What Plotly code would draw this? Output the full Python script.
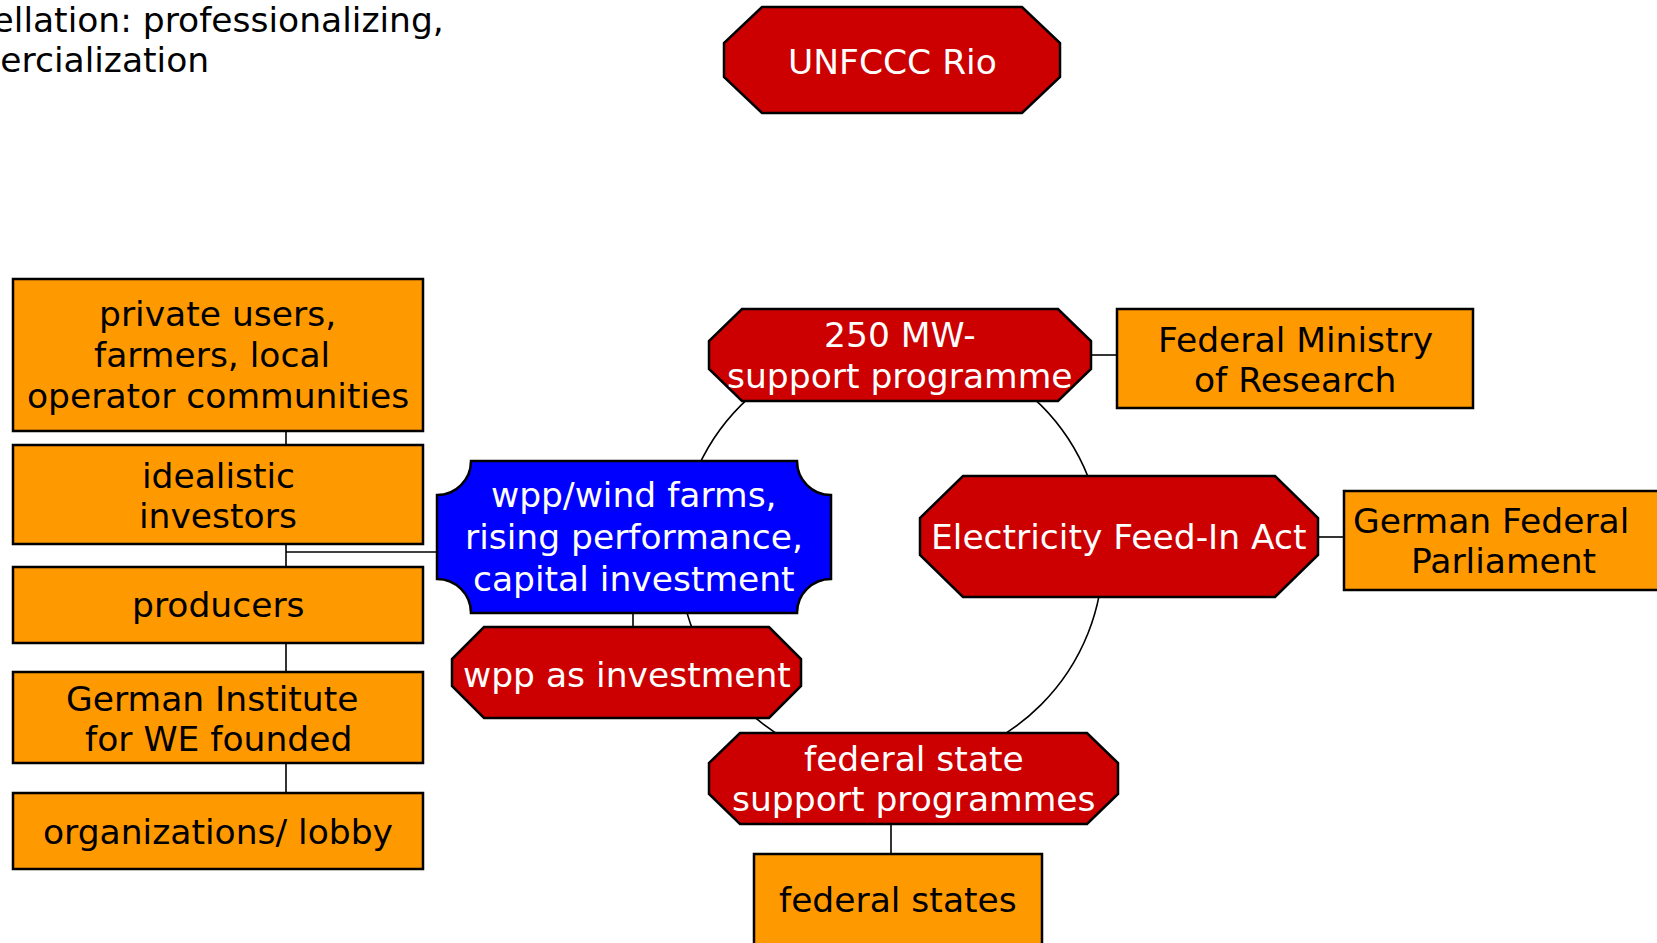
import plotly.graph_objects as go

# ---------------- content (text of the diagram) ----------------
heading_lines = ["Constellation: professionalizing,", "commercialization"]

node_ids = ["unfccc", "mw250", "ministry", "wind", "feedin", "parliament",
            "invest", "fedprog", "fedstates", "private", "idealistic",
            "producers", "institute", "lobby"]
node_lines = [
    ["UNFCCC Rio"],
    ["250 MW-", "support programme"],
    ["Federal Ministry", "of Research"],
    ["wpp/wind farms,", "rising performance,", "capital investment"],
    ["Electricity Feed-In Act"],
    ["German Federal", "Parliament"],
    ["wpp as investment"],
    ["federal state", "support programmes"],
    ["federal states"],
    ["private users,", "farmers, local", "operator communities"],
    ["idealistic", "investors"],
    ["producers"],
    ["German Institute", "for WE founded"],
    ["organizations/ lobby"],
]
node_kinds = ["event", "event", "actor", "core", "event", "actor", "event",
              "event", "actor", "actor", "actor", "actor", "actor", "actor"]

links = [("private", "idealistic"), ("idealistic", "producers"),
         ("producers", "institute"), ("institute", "lobby"),
         ("idealistic", "wind"), ("wind", "invest"),
         ("mw250", "ministry"), ("feedin", "parliament"),
         ("fedprog", "fedstates")]

# ---------------- geometry & style (pixel layout) ----------------
W, H = 1657, 943
FONT = "DejaVu Sans, Verdana, sans-serif"
FS = 34.5
BASE_OFF = 12  # baseline -> line centre

geom = {
    "unfccc":     dict(box=(724, 1060, 7, 113), cut=(38, 36), base=[74]),
    "mw250":      dict(box=(709, 1091, 309, 401), cut=(33, 32), base=[347, 388]),
    "ministry":   dict(box=(1117, 1473, 309, 408), base=[352, 392]),
    "wind":       dict(box=(437, 831, 461, 613), r=34, base=[507, 549, 591]),
    "feedin":     dict(box=(920, 1318, 476, 597), cut=(43, 42), base=[549]),
    "parliament": dict(box=(1344, 1680, 491, 590), base=[533, 573], xc=[1491, 1503]),
    "invest":     dict(box=(452, 801, 627, 718), cut=(32, 32), base=[687]),
    "fedprog":    dict(box=(709, 1118, 733, 824), cut=(31, 30), base=[771, 811]),
    "fedstates":  dict(box=(754, 1042, 854, 965), base=[912]),
    "private":    dict(box=(13, 423, 279, 431), base=[326, 367, 408], xc=[217, 212, 218]),
    "idealistic": dict(box=(13, 423, 445, 544), base=[488, 528]),
    "producers":  dict(box=(13, 423, 567, 643), base=[617]),
    "institute":  dict(box=(13, 423, 672, 763), base=[711, 751], xc=[212, 218]),
    "lobby":      dict(box=(13, 423, 793, 869), base=[844]),
}
link_paths = {
    ("private", "idealistic"): [(286, 431), (286, 445)],
    ("idealistic", "producers"): [(286, 544), (286, 567)],
    ("producers", "institute"): [(286, 643), (286, 672)],
    ("institute", "lobby"): [(286, 763), (286, 793)],
    ("idealistic", "wind"): [(286, 552), (437, 552)],
    ("wind", "invest"): [(633, 613), (633, 627)],
    ("mw250", "ministry"): [(1091, 355), (1117, 355)],
    ("feedin", "parliament"): [(1318, 537), (1344, 537)],
    ("fedprog", "fedstates"): [(891, 824), (891, 854)],
}
ring = dict(cx=891, cy=555, r=212)

fills = {"event": "#CC0000", "actor": "#FF9900", "core": "#0000FF"}
text_col = {"event": "white", "actor": "black", "core": "white"}


def octagon(x0, x1, y0, y1, dx, dy):
    pts = [(x0 + dx, y0), (x1 - dx, y0), (x1, y0 + dy), (x1, y1 - dy),
           (x1 - dx, y1), (x0 + dx, y1), (x0, y1 - dy), (x0, y0 + dy)]
    return "M " + " L ".join(f"{x},{y}" for x, y in pts) + " Z"


def scallop(x0, x1, y0, y1, r):
    k = 0.5523 * r
    return (f"M {x0+r},{y0} L {x1-r},{y0} "
            f"C {x1-r},{y0+k} {x1-k},{y0+r} {x1},{y0+r} "
            f"L {x1},{y1-r} C {x1-k},{y1-r} {x1-r},{y1-k} {x1-r},{y1} "
            f"L {x0+r},{y1} C {x0+r},{y1-k} {x0+k},{y1-r} {x0},{y1-r} "
            f"L {x0},{y0+r} C {x0+k},{y0+r} {x0+r},{y0+k} {x0+r},{y0} Z")


fig = go.Figure()
fig.add_trace(go.Scatter(x=[0, W], y=[0, H], mode="markers",
                         marker=dict(opacity=0), hoverinfo="skip", showlegend=False))

shapes = []
annotations = []

shapes.append(dict(type="circle", xref="x", yref="y",
                   x0=ring["cx"] - ring["r"], x1=ring["cx"] + ring["r"],
                   y0=ring["cy"] - ring["r"], y1=ring["cy"] + ring["r"],
                   line=dict(color="black", width=1.6)))

for a, b in links:
    pts = link_paths[(a, b)]
    path = "M " + " L ".join(f"{x},{y}" for x, y in pts)
    shapes.append(dict(type="path", xref="x", yref="y", path=path,
                       line=dict(color="black", width=1.6)))

for nid, lines, kind in zip(node_ids, node_lines, node_kinds):
    g = geom[nid]
    x0, x1, y0, y1 = g["box"]
    if kind == "core":
        shapes.append(dict(type="path", xref="x", yref="y",
                           path=scallop(x0, x1, y0, y1, g["r"]),
                           fillcolor=fills[kind], line=dict(color="black", width=2.5)))
    elif kind == "event":
        shapes.append(dict(type="path", xref="x", yref="y",
                           path=octagon(x0, x1, y0, y1, *g["cut"]),
                           fillcolor=fills[kind], line=dict(color="black", width=2.5)))
    else:
        shapes.append(dict(type="rect", xref="x", yref="y", x0=x0, x1=x1, y0=y0, y1=y1,
                           fillcolor=fills[kind], line=dict(color="black", width=2.5)))
    xcs = g.get("xc", [(x0 + x1) / 2] * len(lines))
    for line, base, xc in zip(lines, g["base"], xcs):
        annotations.append(dict(x=xc, y=base - BASE_OFF, xref="x", yref="y",
                                text=line, showarrow=False, xanchor="center",
                                yanchor="middle",
                                font=dict(family=FONT, size=FS, color=text_col[kind])))

heading_right = [446, 211]
heading_base = [32, 72]
for line, xr, base in zip(heading_lines, heading_right, heading_base):
    annotations.append(dict(x=xr, y=base - BASE_OFF, xref="x", yref="y", text=line,
                            showarrow=False, xanchor="right", yanchor="middle",
                            font=dict(family=FONT, size=FS, color="black")))

fig.update_layout(
    width=W, height=H,
    margin=dict(l=0, r=0, t=0, b=0),
    paper_bgcolor="white", plot_bgcolor="white",
    xaxis=dict(range=[0, W], visible=False, fixedrange=True),
    yaxis=dict(range=[H, 0], visible=False, fixedrange=True),
    shapes=shapes, annotations=annotations,
    showlegend=False,
)

fig.write_html("out.html", config={"displayModeBar": False},
               post_script="document.body.style.margin='0';"
                           "document.body.style.overflow='hidden';")
